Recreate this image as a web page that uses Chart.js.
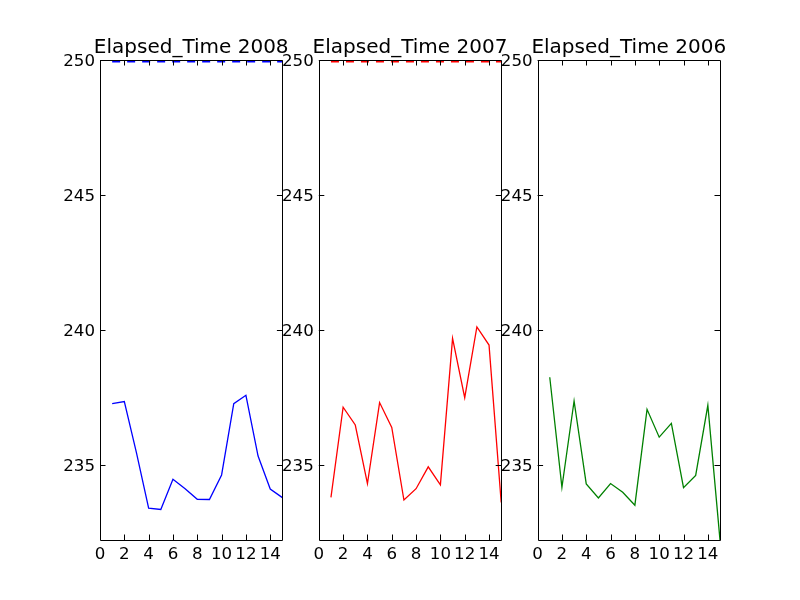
<!DOCTYPE html>
<html>
<head>
<meta charset="utf-8">
<script src="https://cdn.jsdelivr.net/npm/chart.js@4.4.1/dist/chart.umd.min.js"></script>
<style>
  html, body { margin: 0; padding: 0; background: #ffffff; }
  #wrap { position: relative; width: 800px; height: 600px; }
  #wrap canvas { position: absolute; left: 0; top: 0; }
</style>
</head>
<body>
<div id="wrap">
  <canvas id="c2008" width="800" height="600"></canvas>
  <canvas id="c2007" width="800" height="600"></canvas>
  <canvas id="c2006" width="800" height="600"></canvas>
</div>
<script>
// x positions (index of the run)
const runIndex = [1, 2, 3, 4, 5, 6, 7, 8, 9, 10, 11, 12, 13, 14, 15];

// Elapsed_Time per year
const elapsed2008 = [237.27, 237.35, 235.45, 233.40, 233.35, 234.47, 234.12, 233.73, 233.72, 234.63, 237.27, 237.58, 235.33, 234.11, 233.79];
const elapsed2007 = [233.80, 237.14, 236.48, 234.31, 237.31, 236.39, 233.70, 234.12, 234.93, 234.26, 239.69, 237.49, 240.11, 239.44, 233.61];
const elapsed2006 = [238.25, 234.17, 237.37, 234.30, 233.78, 234.31, 233.99, 233.51, 237.06, 236.03, 236.54, 234.16, 234.61, 237.21, 232.22];

// dashed cap line just under the top edge (only on 2008 and 2007)
const capValue = 249.94;

// axes
const xTicks = [0, 2, 4, 6, 8, 10, 12, 14];
const yTicks = [235, 240, 245, 250];
const xMin = 0, xMax = 15;
const yMin = 232.22, yMax = 250;

// panels: left/right edge of each plot area in px
const panels = [
    { id: 'c2008', title: 'Elapsed_Time 2008', values: elapsed2008, color: '#0000ff', cap: true,  left: 100,   right: 282.4 },
    { id: 'c2007', title: 'Elapsed_Time 2007', values: elapsed2007, color: '#ff0000', cap: true,  left: 318.8, right: 501.2 },
    { id: 'c2006', title: 'Elapsed_Time 2006', values: elapsed2006, color: '#008000', cap: false, left: 537.6, right: 720 }
];

const FONT = 'DejaVu Sans';
const TICK_LEN = 5.5;
const SIDE_W = 40; // fixed width of the y axis (and of the empty one on the right)

/**
 * Box around the plot + inward ticks on all four sides (classic look)
 */
const frameTicks = {
    id: 'frameTicks',
    afterDatasetsDraw(chart) {
        const { ctx, chartArea, scales } = chart;
        const { left, right, top, bottom } = chartArea;
        ctx.save();
        ctx.strokeStyle = '#000000';
        ctx.lineWidth = 1;
        ctx.beginPath();
        ctx.rect(Math.round(left) + 0.5, Math.round(top) + 0.5,
                 Math.round(right) - Math.round(left), Math.round(bottom) - Math.round(top));
        xTicks.forEach(v => {
            const px = Math.round(scales.x.getPixelForValue(v)) + 0.5;
            ctx.moveTo(px, bottom);
            ctx.lineTo(px, bottom - TICK_LEN);
            ctx.moveTo(px, top);
            ctx.lineTo(px, top + TICK_LEN);
        });
        yTicks.forEach(v => {
            const py = Math.round(scales.y.getPixelForValue(v)) + 0.5;
            ctx.moveTo(left, py);
            ctx.lineTo(left + TICK_LEN, py);
            ctx.moveTo(right, py);
            ctx.lineTo(right - TICK_LEN, py);
        });
        ctx.stroke();
        ctx.restore();
    }
};

function buildPanel(p) {
    const datasets = [
        {
            label: p.title,
            data: runIndex.map((x, i) => ({ x: x, y: p.values[i] })),
            borderColor: p.color,
            borderWidth: 1.3,
            pointRadius: 0,
            tension: 0,
            fill: false
        }
    ];
    if (p.cap) {
        datasets.push({
            label: 'cap',
            data: [{ x: runIndex[0], y: capValue }, { x: runIndex[runIndex.length - 1], y: capValue }],
            borderColor: p.color,
            borderWidth: 1.6,
            borderDash: [8, 7],
            pointRadius: 0,
            fill: false,
            clip: 4
        });
    }

    const ctx = document.getElementById(p.id).getContext('2d');
    return new Chart(ctx, {
        type: 'line',
        data: { datasets: datasets },
        options: {
            responsive: false,
            animation: false,
            devicePixelRatio: 1,
            layout: {
                // symmetric around the plot so the title centres over it
                padding: { left: p.left - SIDE_W, right: 800 - p.right - SIDE_W, top: 36, bottom: 0 }
            },
            plugins: {
                legend: { display: false },
                tooltip: { enabled: false },
                title: {
                    display: true,
                    text: p.title,
                    color: '#000000',
                    font: { family: FONT, size: 20, weight: 'normal', lineHeight: 1.2 },
                    padding: { top: 0, bottom: 0 }
                }
            },
            scales: {
                x: {
                    type: 'linear',
                    min: xMin,
                    max: xMax,
                    afterBuildTicks: (scale) => { scale.ticks = xTicks.map(v => ({ value: v })); },
                    afterFit: (scale) => { scale.height = 60; },
                    ticks: {
                        color: '#000000',
                        font: { family: FONT, size: 16.67 },
                        padding: 5,
                        maxRotation: 0,
                        autoSkip: false
                    },
                    grid: { display: false, drawTicks: false },
                    border: { display: false }
                },
                y: {
                    type: 'linear',
                    min: yMin,
                    max: yMax,
                    afterBuildTicks: (scale) => { scale.ticks = yTicks.map(v => ({ value: v })); },
                    afterFit: (scale) => { scale.width = SIDE_W; },
                    ticks: {
                        color: '#000000',
                        font: { family: FONT, size: 16.67 },
                        padding: 5,
                        labelOffset: 2,
                        autoSkip: false
                    },
                    grid: { display: false, drawTicks: false },
                    border: { display: false }
                },
                // empty spacer on the right, nothing drawn
                yRight: {
                    type: 'linear',
                    position: 'right',
                    min: yMin,
                    max: yMax,
                    afterFit: (scale) => { scale.width = SIDE_W; },
                    ticks: { display: false },
                    grid: { display: false, drawTicks: false },
                    border: { display: false }
                }
            }
        },
        plugins: [frameTicks]
    });
}

panels.forEach(buildPanel);
</script>
</body>
</html>
